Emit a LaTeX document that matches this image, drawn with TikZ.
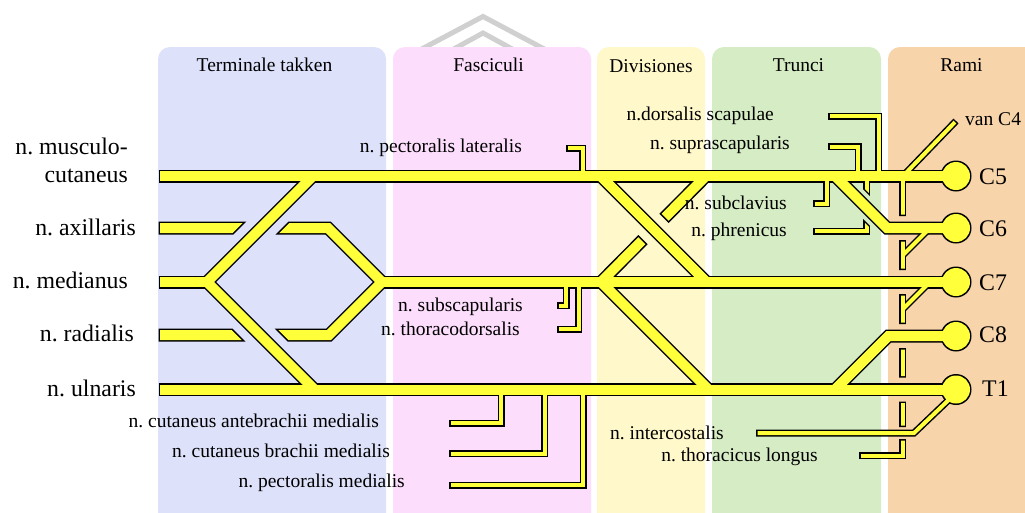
\documentclass[tikz,border=0pt]{standalone}
\usepackage{fontspec}
\setmainfont{Liberation Serif}
\usetikzlibrary{calc}
\frenchspacing
\definecolor{cTerm}{RGB}{222,225,250}
\definecolor{cFasc}{RGB}{252,221,252}
\definecolor{cDiv}{RGB}{255,248,202}
\definecolor{cTrun}{RGB}{214,236,196}
\definecolor{cRami}{RGB}{248,212,170}
\definecolor{nerveY}{RGB}{255,255,58}
\definecolor{chevG}{RGB}{208,208,208}
\newcommand\BigLab{\fontsize{23.8}{27}\selectfont}
\newcommand\SmallLab{\fontsize{19.5}{22}\selectfont}
\newcommand\clipout[3]{\clip (-100,-100) -- (1200,-100) -- (1200,700) -- (-100,700) -- cycle
  ($#1!#3!90:#2$) -- ($#1!#3!-90:#2$) -- ($#2!#3!90:#1$) -- ($#2!#3!-90:#1$) -- cycle;}
\tikzset{
  thickB/.style={draw=black,line width=13pt,line join=miter},
  thickY/.style={draw=nerveY,line width=10pt,line join=miter},
  thinB/.style={draw=black,line width=7pt,line join=miter},
  thinY/.style={draw=nerveY,line width=4pt,line join=miter},
  hdr/.style={font=\SmallLab,inner sep=0pt,anchor=base},
  lab/.style={font=\SmallLab,inner sep=0pt,anchor=base east},
  labw/.style={font=\SmallLab,inner sep=0pt,anchor=base west},
  biglab/.style={font=\BigLab,inner sep=0pt,anchor=base east},
  rlab/.style={font=\BigLab,inner sep=0pt,anchor=base west},
  col/.style={rounded corners=12pt},
}
\newcommand\Network{%
  % thick strands
  \draw[curthick,freeS] (mc0) -- (c5);
  \draw[curthick,freeS] (me0) -- (mf);
  \draw[curthick] (mf) -- (tu);
  \draw[curthick] (mf) -- (bu);
  \draw[curthick,freeS] (ul0) -- (t1);
  \draw[curthick] (hx) -- (c7);
  \draw[curthick] (d1a) -- (d1b);
  \draw[curthick] (d2b) -- (d3b);
  \draw[curthick] (c6a) -- (c6b) -- (c6);
  \draw[curthick] (c8) -- (c8b) -- (c8j);
  \begin{scope}
    \clipout{(axh1)}{(axh2)}{\gX}
    \draw[curthick,freeS] (ax0) -- (ax1) -- (hx);
  \end{scope}
  \begin{scope}
    \clipout{(rah1)}{(rah2)}{\gX}
    \draw[curthick,freeS] (ra0) -- (ra1) -- (hx);
  \end{scope}
  \begin{scope}
    \clipout{(xh1)}{(xh2)}{\gX}
    \draw[curthick] (d2a) -- (d2b);
  \end{scope}
  % thin strands
  \draw[curthin,freeE] (pl0) -- (pl1) -- (pl2);
  \draw[curthin,freeE] (ds0) -- (ds1) -- (ds2);
  \draw[curthin,freeE] (ss0) -- (ss1) -- (ss2);
  \draw[curthin,freeE] (sc0) -- (sc1) -- (sc2);
  \draw[curthin,freeE] (sb0) -- (sb1) -- (sb2);
  \draw[curthin,freeE] (td0) -- (td1) -- (td2);
  \draw[curthin,freeE] (ca0) -- (ca1) -- (ca2);
  \draw[curthin,freeE] (cb0) -- (cb1) -- (cb2);
  \draw[curthin,freeE] (pm0) -- (pm1) -- (pm2);
  \draw[curthin,freeE] (v4a) -- (v4b);
  \draw[curthin] (k6a) -- (k6b);
  \draw[curthin] (k7a) -- (k7b);
  \draw[curthin,freeE] (ic0) -- (ic1) -- (ic2);
  \begin{scope}
    \clipout{(phh1)}{(phh2)}{\gP}
    \draw[curthin,freeE] (ph0) -- (ph1) -- (ph2);
  \end{scope}
  \begin{scope}
    \clipout{(lth6a)}{(lth6b)}{\gL}
    \clipout{(lth7a)}{(lth7b)}{\gL}
    \clipout{(lth8a)}{(lth8b)}{\gL}
    \clipout{(lth1a)}{(lth1b)}{\gL}
    \clipout{(lthia)}{(lthib)}{\gS}
    \draw[curthin,freeE] (lt0) -- (lt1) -- (lt2);
  \end{scope}
  % roots
  \path[curdisc] (c5) circle[radius=\rD];
  \path[curdisc] (c6) circle[radius=\rD];
  \path[curdisc] (c7) circle[radius=\rD];
  \path[curdisc] (c8) circle[radius=\rD];
  \path[curdisc] (t1) circle[radius=\rD];
}
\begin{document}
\begin{tikzpicture}[x=1pt,y=-1pt]
\useasboundingbox (0,0) rectangle (1025,512);
\clip (0,0) rectangle (1025,512);
\fill[white] (0,0) rectangle (1025,512);
% background chevrons
\draw[chevG,line width=5pt,line join=miter] (418,51) -- (483,16.5) -- (548,51);
\draw[chevG,line width=5pt,line join=miter] (452,50) -- (483,33) -- (514,50);
% columns
\fill[cTerm,col] (158,540) -- (158,47) -- (386,47) -- (386,540) -- cycle;
\fill[cFasc,col] (393,540) -- (393,47) -- (591,47) -- (591,540) -- cycle;
\fill[cDiv,col] (597,540) -- (597,47) -- (705,47) -- (705,540) -- cycle;
\fill[cTrun,col] (712,540) -- (712,47) -- (881,47) -- (881,540) -- cycle;
\fill[cRami,col] (888,540) -- (888,47) -- (1060,47) -- (1060,540) -- cycle;
% headers
\node[hdr] (hT) at (264.5,71) {Terminale takken};
\node[hdr] (hF) at (488.5,71) {Fasciculi};
\node[hdr] (hD) at (651,72.5) {Divisiones};
\node[hdr] (hTr) at (798.5,71) {Trunci};
\node[hdr] (hR) at (961.5,71.5) {Rami};
% coordinates
\coordinate (mc0) at (158.5,176);
\coordinate (c5) at (956,176);
\coordinate (c6) at (956,228);
\coordinate (c7) at (956,282);
\coordinate (c8) at (956,336);
\coordinate (t1) at (956,389.5);
\coordinate (me0) at (158.5,282);
\coordinate (mf) at (207,282);
\coordinate (tu) at (313,176);
\coordinate (bu) at (314.5,389.5);
\coordinate (ul0) at (158.5,389.5);
\coordinate (ax0) at (158.5,228);
\coordinate (ax1) at (328,228);
\coordinate (hx) at (382,282);
\coordinate (ra0) at (158.5,335);
\coordinate (ra1) at (329,335);
\coordinate (d1a) at (600.5,176);
\coordinate (d1b) at (706.5,282);
\coordinate (d2a) at (706,176);
\coordinate (d2b) at (601,282);
\coordinate (d3b) at (708.5,389.5);
\coordinate (c6a) at (835,176);
\coordinate (c6b) at (887,228);
\coordinate (c8b) at (888.5,336);
\coordinate (c8j) at (835,389.5);
\coordinate (lt0) at (902.5,176);
\coordinate (lt1) at (902.5,455.5);
\coordinate (lt2) at (859,455.5);
\coordinate (k6a) at (930,228);
\coordinate (k6b) at (902.5,255.5);
\coordinate (k7a) at (930,282);
\coordinate (k7b) at (902.5,309.5);
\coordinate (v4a) at (903,176);
\coordinate (v4b) at (956,121);
\coordinate (ic0) at (957,392);
\coordinate (ic1) at (914,433);
\coordinate (ic2) at (756,433);
\coordinate (pl0) at (582.5,176);
\coordinate (pl1) at (582.5,148);
\coordinate (pl2) at (566,148);
\coordinate (ds0) at (878.5,176);
\coordinate (ds1) at (878.5,116);
\coordinate (ds2) at (828,116);
\coordinate (ss0) at (858,176);
\coordinate (ss1) at (858,146.5);
\coordinate (ss2) at (828,146.5);
\coordinate (sc0) at (826.5,176);
\coordinate (sc1) at (826.5,203.5);
\coordinate (sc2) at (813,203.5);
\coordinate (ph0) at (866.5,176);
\coordinate (ph1) at (866.5,231);
\coordinate (ph2) at (813,231);
\coordinate (sb0) at (566,282);
\coordinate (sb1) at (566,305.5);
\coordinate (sb2) at (557,305.5);
\coordinate (td0) at (578.5,282);
\coordinate (td1) at (578.5,329);
\coordinate (td2) at (557,329);
\coordinate (ca0) at (501,389.5);
\coordinate (ca1) at (501,423);
\coordinate (ca2) at (449,423);
\coordinate (cb0) at (544.5,389.5);
\coordinate (cb1) at (544.5,453.5);
\coordinate (cb2) at (449,453.5);
\coordinate (pm0) at (583,389.5);
\coordinate (pm1) at (583,485);
\coordinate (pm2) at (449,485);
% crossing gaps
\coordinate (axh1) at (241,248);
\coordinate (axh2) at (281,208);
\coordinate (rah1) at (240,315);
\coordinate (rah2) at (280,355);
\coordinate (xh1) at (633,208.5);
\coordinate (xh2) at (673.5,249);
\coordinate (phh1) at (851.5,192.5);
\coordinate (phh2) at (881.5,222.5);
\coordinate (lth6a) at (890,228);
\coordinate (lth6b) at (915,228);
\coordinate (lth7a) at (890,282);
\coordinate (lth7b) at (915,282);
\coordinate (lth8a) at (890,336);
\coordinate (lth8b) at (915,336);
\coordinate (lth1a) at (890,389.5);
\coordinate (lth1b) at (915,389.5);
\coordinate (lthia) at (893,433);
\coordinate (lthib) at (912,433);
% outline pass
\begin{scope}[curthick/.style=thickB,curthin/.style=thinB,freeS/.style={},freeE/.style={},curdisc/.style={fill=black}]
  \def\gX{15pt}\def\gL{12pt}\def\gS{6pt}\def\gP{10.5pt}\def\rD{15.5pt}
  \Network
\end{scope}
% fill pass
\begin{scope}[curthick/.style=thickY,curthin/.style=thinY,freeS/.style={shorten <=1.5pt},freeE/.style={shorten >=1.5pt},curdisc/.style={fill=nerveY}]
  \def\gX{16.5pt}\def\gL{13.5pt}\def\gS{7.5pt}\def\gP{12pt}\def\rD{14pt}
  \Network
\end{scope}
% labels
\node[biglab] (lmc1) at (128,154) {n. musculo-};
\node[biglab] (lmc2) at (128,182) {cutaneus};
\node[biglab] (lax) at (136,235) {n. axillaris};
\node[biglab] (lme) at (128,288.5) {n. medianus};
\node[biglab] (lra) at (134,341.5) {n. radialis};
\node[biglab] (lul) at (136,396) {n. ulnaris};
\node[rlab] (lc5) at (979,184) {C5};
\node[rlab] (lc6) at (979,236.5) {C6};
\node[rlab] (lc7) at (979,290.5) {C7};
\node[rlab] (lc8) at (979,342.5) {C8};
\node[rlab] (lt1l) at (982,396.5) {T1};
\node[lab] (lpl) at (522,152) {n. pectoralis lateralis};
\node[lab] (lds) at (774,120.5) {n.dorsalis scapulae};
\node[lab] (lss) at (790,149.5) {n. suprascapularis};
\node[lab] (lsc) at (787,209) {n. subclavius};
\node[lab] (lph) at (787,236) {n. phrenicus};
\node[lab] (lsb) at (523,311.5) {n. subscapularis};
\node[lab] (ltd) at (520,335) {n. thoracodorsalis};
\node[lab] (lca) at (379,427) {n. cutaneus antebrachii medialis};
\node[lab] (lcb) at (390,457) {n. cutaneus brachii medialis};
\node[lab] (lpm) at (405,487) {n. pectoralis medialis};
\node[lab] (lic) at (724,439) {n. intercostalis};
\node[lab] (ltl) at (818,461) {n. thoracicus longus};
\node[labw] (lv4) at (965,125) {van C4};
\end{tikzpicture}
\end{document}
